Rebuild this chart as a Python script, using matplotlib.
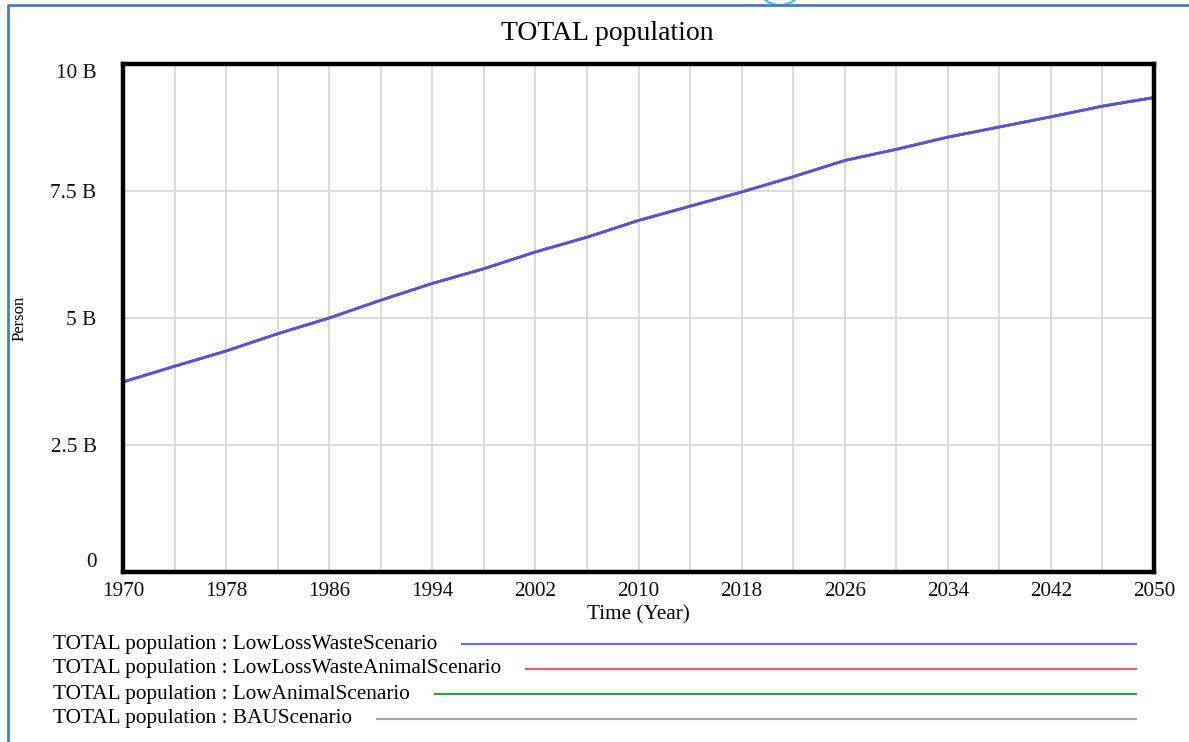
import numpy as np
import matplotlib
matplotlib.use("Agg")
import matplotlib.pyplot as plt
from matplotlib.lines import Line2D
from matplotlib.patches import Arc

# data (billions of persons); all 4 scenarios overlap
years = [1970, 1974, 1978, 1982, 1986, 1990, 1994, 1998, 2002, 2006, 2010,
         2014, 2018, 2022, 2026, 2030, 2034, 2038, 2042, 2046, 2050]
pop_lowlosswaste = [3.74, 4.05, 4.35, 4.69, 5.00, 5.35, 5.68, 5.97, 6.30, 6.59, 6.92,
                    7.20, 7.48, 7.78, 8.10, 8.32, 8.56, 8.76, 8.96, 9.17, 9.34]
pop_lowlosswasteanimal = list(pop_lowlosswaste)
pop_lowanimal = list(pop_lowlosswaste)
pop_bau = list(pop_lowlosswaste)

scenarios = ["LowLossWasteScenario", "LowLossWasteAnimalScenario",
             "LowAnimalScenario", "BAUScenario"]
series = [pop_lowlosswaste, pop_lowlosswasteanimal, pop_lowanimal, pop_bau]
colors = ["#5d6cf0", "#f05a5a", "#1fae46", "#a8a8a8"]

xticks = [1970, 1978, 1986, 1994, 2002, 2010, 2018, 2026, 2034, 2042, 2050]
yticks = [0, 2.5, 5, 7.5, 10]
ylabels = ["0", "2.5 B", "5 B", "7.5 B", "10 B"]

W, H = 1189, 742
plt.rcParams['font.family'] = ['Liberation Serif', 'DejaVu Serif']
fig = plt.figure(figsize=(W / 100, H / 100), dpi=100)

def px(x, y):
    return x / W, 1 - y / H

l, t, r, b = 123, 64, 1154, 572
ax = fig.add_axes([l / W, 1 - b / H, (r - l) / W, (b - t) / H])

# draw back to front so blue sits on top
for vals, c in reversed(list(zip(series, colors))):
    ax.plot(years, vals, color=c, lw=1.9, solid_capstyle='round')
ax.plot(years, pop_lowlosswaste, color="#5a4fdc", lw=1.6)

ax.set_xlim(1970, 2050)
ax.set_ylim(0, 10)
ax.set_xticks(xticks)
ax.set_xticks(np.arange(1970, 2051, 4), minor=True)
ax.set_yticks(yticks)
ax.set_yticklabels(ylabels)
ax.grid(True, which='both', axis='x', color='#d8d8d8', lw=1.3)
ax.grid(True, axis='y', color='#d8d8d8', lw=1.3)
ax.set_axisbelow(True)
ax.tick_params(length=0, which='both', labelsize=15.3, colors='#111111')
ax.tick_params(axis='y', pad=19)
ax.tick_params(axis='x', pad=7)
yl = ax.get_yticklabels()
yl[0].set_va('bottom')
yl[-1].set_va('top')
for s in ax.spines.values():
    s.set_linewidth(3.2)
    s.set_color('black')

ax.set_xlabel("Time (Year)", fontsize=15.3, labelpad=3)
fig.text(20 / W, 1 - 318 / H, "Person", rotation=90, fontsize=12,
         ha='center', va='center')
fig.text(*px(607, 33), "TOTAL population", fontsize=20, ha='center', va='center')

# legend rows: label then a line up to the right
fig.canvas.draw()
rend = fig.canvas.get_renderer()
row_y = [644, 669, 694, 719]
for name, c, yy in zip(scenarios, colors, row_y):
    txt = fig.text(*px(53, yy), "TOTAL population : " + name, fontsize=15.3,
                   ha='left', va='center')
    bb = txt.get_window_extent(rend)
    x0 = bb.x1 + 25
    fig.add_artist(Line2D([x0 / W, 1136 / W], [1 - yy / H, 1 - yy / H],
                          color=c, lw=1.5))

# page frame (left and top edge) and handle arc
fig.add_artist(Line2D([8 / W, 8 / W, 1], [0, 1 - 5 / H, 1 - 5 / H],
                      color='#4a7ebb', lw=2))
fig.add_artist(Arc((780 / W, 1 - (-19) / H), 48 / W, 48 / H, theta1=200, theta2=340,
                   color='#3cc0f0', lw=1.4, transform=fig.transFigure))

fig.savefig("out.png", dpi=100)
